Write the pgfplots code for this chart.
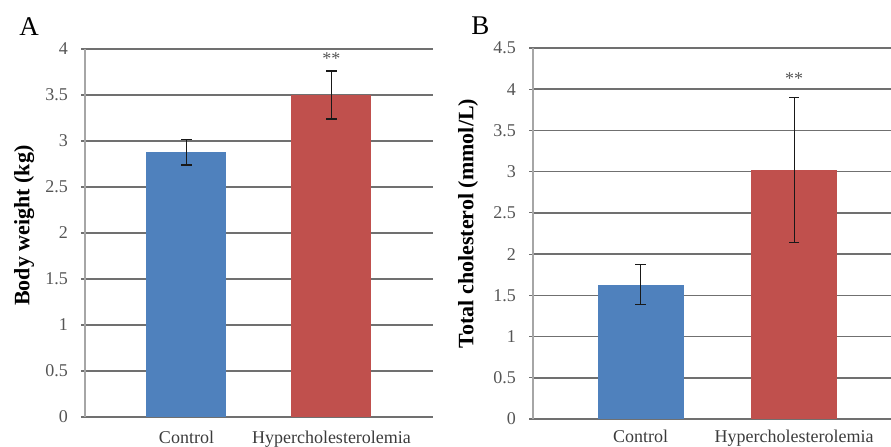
\documentclass[border=0pt]{standalone}
\usepackage{pgfplots}
\pgfplotsset{compat=1.18}
\usepackage{fontspec}
\setmainfont{Liberation Serif}
\definecolor{barblue}{HTML}{4F81BD}
\definecolor{barred}{HTML}{C0504D}
\definecolor{gridc}{HTML}{707070}
\definecolor{spinec}{HTML}{A6A6A6}
\definecolor{tickc}{HTML}{555555}
\definecolor{catc}{HTML}{3C3C3C}
\pgfplotsset{
  excelbar/.style={
    scale only axis,
    anchor=south west,
    xmin=-0.7,
    ymin=0,
    xtick={0,1},
    xticklabels={Control,Hypercholesterolemia},
    xtick style={draw=none},
    xticklabel style={font=\fontsize{9}{10}\selectfont, text=catc, anchor=north},
    ytick style={draw=gridc, line width=0.6pt},
    tick align=outside,
    major tick length=2pt,
    yticklabel style={font=\fontsize{9}{10}\selectfont, text=tickc, /pgf/number format/assume math mode=true, xshift=-3pt},
    ymajorgrids,
    grid style={gridc, line width=0.75pt},
    axis x line*=bottom,
    axis y line*=left,
    x axis line style={gridc, line width=0.75pt},
    y axis line style={spinec, line width=0.75pt},
    ylabel style={font=\bfseries\fontsize{11}{12}\selectfont, anchor=center, rotate=0},
    error bars/y dir=both,
    error bars/y explicit,
    error bars/error bar style={line width=0.6pt, black!90},
    error bars/error mark options={rotate=90, mark size=2.6pt, line width=0.6pt, black!90},
    clip=false,
  }
}
\begin{document}
\begin{tikzpicture}
\useasboundingbox (0,0) rectangle (445.5pt,223pt);
\clip (0,0) rectangle (445.5pt,223pt);
% Panel A
\begin{axis}[excelbar,
  at={(42.5pt,14.5pt)},
  width=174pt, height=184pt,
  xmax=1.7,
  ymax=4,
  xticklabel style={yshift=-1.5pt},
  ytick={0,0.5,1,1.5,2,2.5,3,3.5,4},
  yticklabels={0,0.5,1,1.5,2,2.5,3,3.5,4},
  ylabel={Body weight (kg)},
  ylabel style={at={(axis description cs:-0.175,0.52)}},
]
\addplot[ybar, bar width=40pt, fill=barblue, draw=none] coordinates {(0,2.88) +- (0,0.14)};
\addplot[ybar, bar width=40pt, fill=barred, draw=none] coordinates {(1,3.50) +- (0,0.26)};
\node[font=\fontsize{9}{10}\selectfont, text=tickc] at (axis cs:1,3.90) {**};
\end{axis}
\node[font=\fontsize{13.5}{15}\selectfont, anchor=south west, inner sep=0pt] at (9.5pt,205pt) {A};
% Panel B
\begin{axis}[excelbar,
  at={(266.5pt,13.5pt)},
  width=179pt, height=185.5pt,
  xmax=1.63,
  ymax=4.5,
  xticklabel style={yshift=0pt},
  ytick={0,0.5,1,1.5,2,2.5,3,3.5,4,4.5},
  yticklabels={0,0.5,1,1.5,2,2.5,3,3.5,4,4.5},
  ylabel={Total cholesterol (mmol/L)},
  ylabel style={at={(axis description cs:-0.1816,0.527)}},
]
\addplot[ybar, bar width=43pt, fill=barblue, draw=none] coordinates {(0,1.63) +- (0,0.24)};
\addplot[ybar, bar width=43pt, fill=barred, draw=none] coordinates {(1,3.02) +- (0,0.88)};
\node[font=\fontsize{9}{10}\selectfont, text=tickc] at (axis cs:1,4.13) {**};
\end{axis}
\node[font=\fontsize{13.5}{15}\selectfont, anchor=south west, inner sep=0pt] at (235.5pt,205.5pt) {B};
\end{tikzpicture}
\end{document}
